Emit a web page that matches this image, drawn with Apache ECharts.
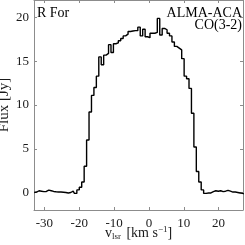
<!DOCTYPE html>
<html>
<head>
<meta charset="utf-8">
<script src="https://cdn.jsdelivr.net/npm/echarts@6/dist/echarts.min.js"></script>
<style>html,body{margin:0;padding:0;background:#fff}#c{width:245px;height:245px}</style>
</head>
<body>
<div id="c"></div>
<script>
// channel centre velocities (km/s)
const velocity = [-32.95,-32.25,-31.55,-30.85,-30.15,-29.45,-28.75,-28.05,-27.35,-26.65,
 -25.95,-25.25,-24.55,-23.85,-23.15,-22.45,-21.75,-21.05,-20.35,-19.65,
 -18.95,-18.25,-17.55,-16.85,-16.15,-15.45,-14.75,-14.05,-13.35,-12.65,
 -11.95,-11.25,-10.55,-9.85,-9.15,-8.45,-7.75,-7.05,-6.35,-5.65,
 -4.95,-4.25,-3.55,-2.85,-2.15,-1.45,-0.75,-0.05,0.65,1.35,
 2.05,2.75,3.45,4.15,4.85,5.55,6.25,6.95,7.65,8.35,
 9.05,9.75,10.45,11.15,11.85,12.55,13.25,13.95,14.65,15.35,
 16.05,16.75,17.45,18.15,18.85,19.55,20.25,20.95,21.65,22.35,
 23.05,23.75,24.45,25.15,25.85,26.55,27.25];
// flux density (Jy)
const flux = [0.0,0.05,0.2,0.15,0.1,0.12,0.28,0.2,0.12,0.08,
 0.05,0.06,0.03,0.0,-0.05,0.0,0.15,-0.1,0.3,0.6,
 1.2,3.0,6.0,9.2,11.1,12.0,13.3,15.5,14.6,15.7,
 15.9,16.9,16.0,17.0,17.1,17.35,17.6,17.9,18.1,18.4,
 18.45,18.5,18.5,18.9,17.9,18.65,17.8,17.7,18.2,18.2,
 18.3,19.9,18.0,18.75,18.6,18.2,17.9,17.2,16.7,16.5,
 16.3,15.3,13.3,13.0,11.9,9.05,5.2,2.4,1.2,0.3,
 -0.1,-0.05,-0.05,0.1,0.2,0.15,0.2,0.1,0.15,0.25,
 0.15,0.05,0.05,0.0,-0.05,-0.1,-0.15];
const xTicks = [-30,-20,-10,0,10,20];
const yTicks = [0,5,10,15,20];
const sourceName = 'R For';
const telescopeLines = ['ALMA-ACA','CO(3-2)'];

const FONT = 'Liberation Serif';
const axisCol = '#8c8c8c';
const txtCol = '#1a1a1a';
const chart = echarts.init(document.getElementById('c'), null, {renderer:'canvas'});
const data = velocity.map((v,i)=>[v, flux[i]]);
const baseAxis = (isX, show) => ({
  type:'value',
  min: isX ? -33 : -2,
  max: isX ? 27 : 22,
  axisLine:{show:true,onZero:false,lineStyle:{color:axisCol,width:1}},
  axisTick:{show:true,inside:true,length:3,lineStyle:{color:axisCol},customValues: isX?xTicks:yTicks},
  axisLabel:{show:show,customValues: isX?xTicks:yTicks,color:txtCol,fontFamily:FONT,fontSize:13,margin: isX?7:5},
  splitLine:{show:false}
});
const xb = baseAxis(true,true);
xb.name = '{a|v}{s|lsr}{a| [km s}{p|−1}{a|]}';
xb.nameLocation='middle';
xb.nameGap=15;
xb.nameMoveOverlap=false;
xb.nameTextStyle={rich:{
  a:{fontFamily:FONT,fontSize:14,color:txtCol},
  s:{fontFamily:FONT,fontSize:9,color:txtCol,padding:[7,2,0,0]},
  p:{fontFamily:FONT,fontSize:9,color:txtCol,padding:[0,0,8,0]}
}};
const yl = baseAxis(false,true);
yl.name='Flux [Jy]';
yl.nameLocation='middle';
yl.nameGap=22;
yl.nameMoveOverlap=false;
yl.nameRotate=90;
yl.nameTextStyle={fontFamily:FONT,fontSize:15,color:txtCol};
const xt = baseAxis(true,false); xt.position='top';
const yr = baseAxis(false,false); yr.position='right';

chart.setOption({
  animation:false,
  grid:{left:34,right:2,top:0,bottom:35,containLabel:false,outerBoundsMode:'none'},
  xAxis:[xb, xt],
  yAxis:[yl, yr],
  series:[{
    type:'line', step:'middle', data:data, showSymbol:false, symbol:'none',
    lineStyle:{color:'#000',width:1.4}, clip:true
  }],
  graphic:[
    {type:'text',x:37,y:6,style:{text:sourceName,font:'14px "Liberation Serif"',fill:'#000',align:'left',verticalAlign:'top'}},
    {type:'text',x:242,y:6,style:{text:telescopeLines[0],font:'14px "Liberation Serif"',fill:'#000',align:'right',verticalAlign:'top'}},
    {type:'text',x:242,y:18,style:{text:telescopeLines[1],font:'14px "Liberation Serif"',fill:'#000',align:'right',verticalAlign:'top'}}
  ]
});
</script>
</body>
</html>
